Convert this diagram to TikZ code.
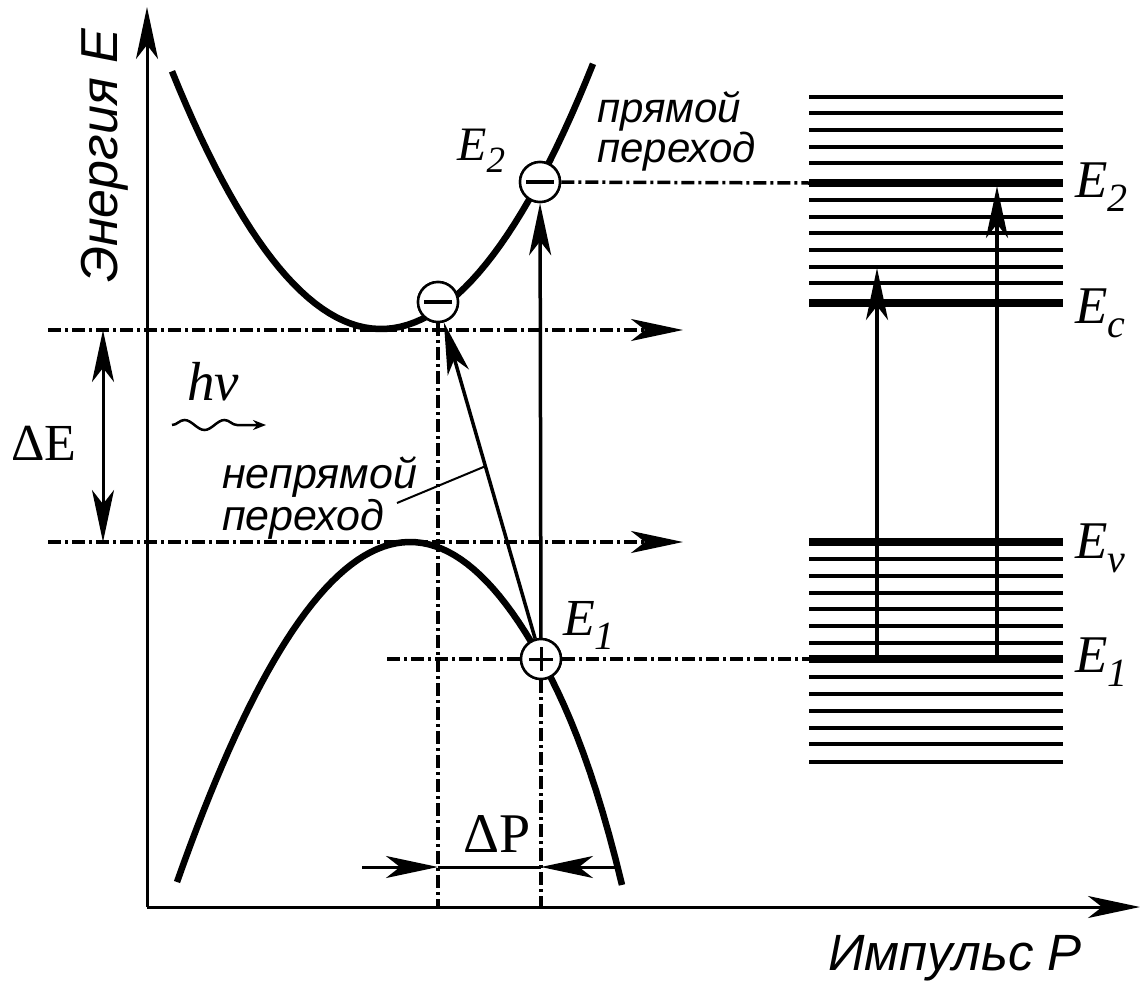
\documentclass[tikz,border=0pt]{standalone}
\usepackage{fontspec}
\setmainfont{Liberation Serif}
\newfontfamily\rusfont{Liberation Sans}
\usetikzlibrary{arrows.meta,calc,decorations.pathmorphing}
\newcommand{\fsz}[2][]{\fontsize{#2}{#2}\selectfont}
\newcommand{\enlev}[2][40]{\textit{E}\raisebox{-0.27em}{\fontsize{#1}{#1}\selectfont\textit{#2}}}

\begin{document}
\begin{tikzpicture}[x=1pt,y=-1pt,
    >={Stealth[length=52pt,width=22pt,inset=14pt]},
    axisline/.style={line width=3pt},
    band/.style={line width=6.5pt},
    chainline/.style={line width=3.5pt,dash pattern=on 13pt off 4pt on 3pt off 4pt},
    trans/.style={line width=3.5pt,->},
    particle/.style={circle,draw,fill=white,line width=2.5pt,minimum size=40pt,inner sep=0pt},
    elec/.style={particle,path picture={\draw[line width=4.5pt]
        ([xshift=-14pt]path picture bounding box.center) -- ([xshift=14pt]path picture bounding box.center);}},
    holesym/.style={particle,path picture={\draw[line width=3pt]
        ([xshift=-12pt]path picture bounding box.center) -- ([xshift=12pt]path picture bounding box.center)
        ([yshift=-12pt]path picture bounding box.center) -- ([yshift=12pt]path picture bounding box.center);}},
    rustext/.style={font=\rusfont\itshape,inner sep=0pt},
    eqtext/.style={inner sep=0pt,anchor=base west}]
  \useasboundingbox (0,0) rectangle (1143,980);

  % axes
  \coordinate (O) at (147,907);
  \coordinate (Etop) at (147,7);
  \coordinate (Pend) at (1140,907);
  \draw[axisline,->] (O) -- (Etop);
  \draw[axisline,->] (O) -- (Pend);

  % energy levels on the right
  \foreach \y in {97,113,130,147,163,200,217,233,250,267,283,
                  559,576,593,609,626,643,677,694,711,728,744,762}
    \draw[line width=4pt] (809,\y) -- (1063,\y);
  \foreach \y in {183,303,542,659}
    \draw[line width=7.5pt] (809,\y) -- (1063,\y);

  % particles
  \node[elec] (eMin) at (438,302) {};
  \node[elec] (eTop) at (540,182) {};
  \node[holesym] (hole) at (541,659) {};

  % dash-dot guide lines
  \coordinate (gapL1) at (48,330);
  \coordinate (gapR1) at (683,330);
  \coordinate (gapL2) at (48,542);
  \coordinate (gapR2) at (683,542);
  \coordinate (lvE2) at (809,183);
  \coordinate (lvE1) at (809,659);
  \coordinate (holeL) at (387,659);
  \draw[chainline,->] (gapL1) -- (gapR1);
  \draw[chainline,->] (gapL2) -- (gapR2);
  \draw[chainline] (eTop) -- (lvE2);
  \draw[chainline] (holeL) -- (hole.west);
  \draw[chainline] (hole.east) -- (lvE1);
  \draw[chainline] (eMin.south) -- (eMin.south |- O);
  \draw[chainline] (hole.south) -- (hole.south |- O);

  % bands
  \draw[band] plot[domain=172:593,samples=60] (\x,{329-59*((\x-381)/100)^2});
  \draw[band] plot[domain=177:622,samples=70]
      (\x,{542+66.18*((\x-410)/100)^2+1.523*((\x-410)/100)^3+58.3*(max(0,(\x-541)/100))^3});

  % transitions
  \draw[trans] (hole) -- (eMin);
  \draw[trans] (hole) -- (eTop);
  \node[elec] at (eMin) {};
  \node[elec] at (eTop) {};
  \node[holesym] at (hole) {};

  \coordinate (aL0) at (877,659);
  \coordinate (aL1) at (877,268);
  \coordinate (aR0) at (997,659);
  \coordinate (aR1) at (997,186);
  \draw[trans] (aL0) -- (aL1);
  \draw[trans] (aR0) -- (aR1);

  % gap and momentum markers
  \draw[line width=3pt,<->] (103,330) -- (103,542);
  \coordinate (dpL) at (362,867);
  \coordinate (dpR) at (615,867);
  \draw[line width=3pt,->] (dpL) -- (dpL -| eMin);
  \draw[line width=3pt,->] (dpR) -- (dpR -| hole);
  \draw[line width=3pt] (dpL -| eMin) -- (dpR -| hole);

  % photon
  \coordinate (w0) at (172,425);
  \coordinate (w1) at (266,425);
  \draw[line width=2.5pt,-{Stealth[length=13pt,width=10pt]},decorate,
        decoration={snake,amplitude=5pt,segment length=40pt,post length=18pt}] (w0) -- (w1);

  % leader for indirect label
  \coordinate (lead) at (397,503);
  \draw[line width=2pt] (lead) -- ($(hole)!0.54!(eMin)$);

  % labels
  \node[rustext,rotate=90,anchor=base west,font=\rusfont\itshape\fsz{52}] (ylab) at (117,283) {Энергия E};
  \node[rustext,anchor=base west,font=\rusfont\itshape\fsz{51}] (xlab) at (828,970) {Импульс P};
  \node[rustext,anchor=north west,align=left,font=\rusfont\itshape\fontsize{42}{35}\selectfont] (dirlab)
      at (597,91) {прямой\\переход};
  \node[rustext,anchor=north west,align=left,font=\rusfont\itshape\fontsize{43}{32}\selectfont] (indlab)
      at (222,457) {непрямой\\переход};
  \node[eqtext,font=\itshape\fsz{55}] (hnu) at (187,400) {hν};
  \node[eqtext,font=\fsz{52}] (dE) at (11,460) {ΔE};
  \node[eqtext,font=\fsz{56}] (dP) at (463,852) {ΔP};
  \node[eqtext,font=\fsz{48}] (lE2) at (457,160) {\enlev[37]{2}};
  \node[eqtext,font=\fsz{52}] (lE1) at (563,635) {\enlev{1}};
  \node[eqtext,font=\fsz{53}] (rE2) at (1075,197) {\enlev{2}};
  \node[eqtext,font=\fsz{53}] (rEc) at (1075,323) {\enlev{c}};
  \node[eqtext,font=\fsz{53}] (rEv) at (1075,558) {\enlev{v}};
  \node[eqtext,font=\fsz{53}] (rE1) at (1075,672) {\enlev{1}};
\end{tikzpicture}
\end{document}
